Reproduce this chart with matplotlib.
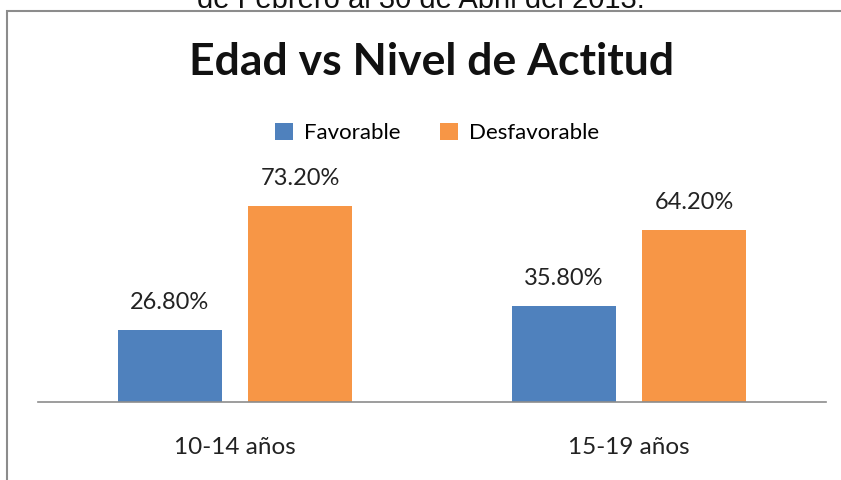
import matplotlib.pyplot as plt
import numpy as np
from matplotlib.patches import Rectangle

grupos = ['10-14 años', '15-19 años']
favorable = [26.8, 35.8]
desfavorable = [73.2, 64.2]
series = ['Favorable', 'Desfavorable']
colores = ['#4F81BD', '#F79646']

W, H = 841, 480
fig = plt.figure(figsize=(W / 100, H / 100), dpi=100)
fnt = ['Lato', 'DejaVu Sans']

# marco gris cortado
fig.add_artist(Rectangle((6.5 / W, -0.1), 1.2, (H - 11) / H + 0.1, transform=fig.transFigure,
                         fill=False, edgecolor='#8c8c8c', lw=1.5))
fig.text(0.5, 1 - 8 / H, 'de Febrero al 30 de Abril del 2013.', ha='center', va='baseline',
         fontsize=21, family='Liberation Sans', color='#111111')

ax = fig.add_axes([38 / W, (H - 402) / H, 788 / W, 302 / H])
x = np.arange(len(grupos))
off = 0.166
bw = 0.264
b1 = ax.bar(x - off, favorable, bw, color=colores[0], label=series[0])
b2 = ax.bar(x + off, desfavorable, bw, color=colores[1], label=series[1])
for barras in (b1, b2):
    for b in barras:
        ax.text(b.get_x() + b.get_width() / 2, b.get_height() + 10.3, '%.2f%%' % b.get_height(),
                ha='center', va='center', fontsize=17, family=fnt, color='#222222')

ax.set_xlim(-0.5, 1.5)
ax.set_ylim(0, 112.8)
ax.set_xticks(x)
ax.set_xticklabels(grupos, fontsize=17.5, family=fnt, color='#222222')
ax.tick_params(axis='x', length=0, pad=25)
ax.set_yticks([])
for s in ['top', 'left', 'right']:
    ax.spines[s].set_visible(False)
ax.spines['bottom'].set_color('#8c8c8c')
ax.spines['bottom'].set_linewidth(1.2)

fig.text(432 / W, 1 - 62 / H, 'Edad vs Nivel de Actitud', ha='center', va='center',
         fontsize=32, fontweight='bold', family=fnt, color='#111111')
fig.legend(handles=[b1, b2], loc='center', bbox_to_anchor=(437 / W, 1 - 133 / H), ncol=2,
           frameon=False, prop={'family': fnt, 'size': 16}, handlelength=0.8, handleheight=0.8,
           columnspacing=1.8, handletextpad=0.5)

fig.savefig('out.png', dpi=100)
